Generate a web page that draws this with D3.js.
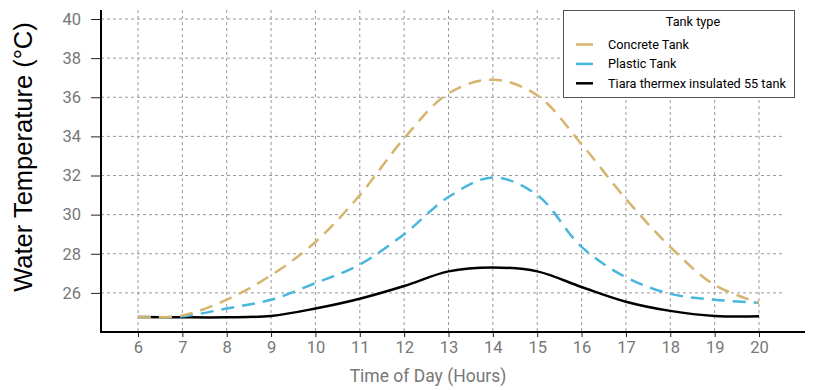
<!DOCTYPE html>
<html>
<head>
<meta charset="utf-8">
<script src="https://cdn.jsdelivr.net/npm/d3@7"></script>
<style>
  body { margin: 0; background: #fff; }
  text { font-family: Roboto, sans-serif; }
</style>
</head>
<body>
<div id="chart"></div>
<script>
// data
hours = [6, 7, 8, 9, 10, 11, 12, 13, 14, 15, 16, 17, 18, 19, 20]
concrete = [24.75, 24.85, 25.65, 26.9, 28.6, 31.0, 33.9, 36.2, 36.9, 36.1, 33.6, 30.8, 28.35, 26.4, 25.5]
plastic = [24.75, 24.8, 25.2, 25.65, 26.5, 27.45, 29.0, 30.9, 31.9, 31.0, 28.35, 26.8, 25.95, 25.65, 25.5]
tiara = [24.77, 24.75, 24.75, 24.82, 25.2, 25.7, 26.35, 27.1, 27.3, 27.1, 26.3, 25.55, 25.08, 24.82, 24.8]
yTicks = [26, 28, 30, 32, 34, 36, 38, 40]
seriesNames = ["Concrete Tank", "Plastic Tank", "Tiara thermex insulated 55 tank"]
seriesColors = ["#d6b46e", "#48b6dd", "#000000"]

width = 820
height = 390

x = d3.scaleLinear().domain([6, 20]).range([138, 759])
y = d3.scaleLinear().domain([24, 40]).range([332, 19])

const svg = d3.select("#chart").append("svg")
    .attr("width", width)
    .attr("height", height)

// grid
svg.append("g").selectAll("line")
    .data(hours)
    .join("line")
    .attr("x1", d => x(d)).attr("x2", d => x(d))
    .attr("y1", 10).attr("y2", 332)
    .attr("stroke", "#999").attr("stroke-dasharray", "3,3").attr("stroke-width", 1)

svg.append("g").selectAll("line")
    .data(yTicks)
    .join("line")
    .attr("x1", 101).attr("x2", 783)
    .attr("y1", d => y(d)).attr("y2", d => y(d))
    .attr("stroke", "#999").attr("stroke-dasharray", "3,3").attr("stroke-width", 1)

// y axis
const yAxis = svg.append("g")
    .attr("transform", "translate(101,0)")
    .call(d3.axisLeft(y).tickValues(yTicks).tickSize(10).tickPadding(10))
yAxis.select(".domain").remove()
yAxis.selectAll(".tick line").attr("stroke", "#222")
yAxis.selectAll("text").attr("fill", "#777").style("font-size", "16.5px")

svg.append("line")
    .attr("x1", 101).attr("x2", 101).attr("y1", 10).attr("y2", 333)
    .attr("stroke", "#000").attr("stroke-width", 2)

// x axis
const xAxis = svg.append("g")
    .attr("transform", "translate(0,332)")
    .call(d3.axisBottom(x).tickValues(hours).tickSize(5).tickPadding(4))
xAxis.select(".domain").remove()
xAxis.selectAll(".tick line").attr("stroke", "#222")
xAxis.selectAll("text").attr("fill", "#777").style("font-size", "16.5px")

svg.append("line")
    .attr("x1", 100).attr("x2", 805).attr("y1", 332).attr("y2", 332)
    .attr("stroke", "#000").attr("stroke-width", 2)

// titles
svg.append("text")
    .attr("transform", "translate(32,157) rotate(-90)")
    .attr("text-anchor", "middle")
    .style("font-family", "'Liberation Sans', Arial, sans-serif")
    .style("font-size", "25.5px")
    .attr("fill", "#000")
    .text("Water Temperature (°C)")

svg.append("text")
    .attr("x", 428).attr("y", 382)
    .attr("text-anchor", "middle")
    .style("font-size", "17.5px")
    .attr("fill", "#777")
    .text("Time of Day (Hours)")

// lines
line = function(vals) {
  return d3.line()
    .x((d, i) => x(hours[i]))
    .y(d => y(d))
    .curve(d3.curveCatmullRom)(vals)
}

svg.append("path")
    .attr("d", line(tiara))
    .attr("fill", "none").attr("stroke", seriesColors[2]).attr("stroke-width", 2.5)

svg.append("path")
    .attr("d", line(plastic))
    .attr("fill", "none").attr("stroke", seriesColors[1]).attr("stroke-width", 2.5)
    .attr("stroke-dasharray", "13,8")

svg.append("path")
    .attr("d", line(concrete))
    .attr("fill", "none").attr("stroke", seriesColors[0]).attr("stroke-width", 2.5)
    .attr("stroke-dasharray", "13,8")

// legend
const lg = svg.append("g")
lg.append("rect")
    .attr("x", 563.5).attr("y", 10.5).attr("width", 231).attr("height", 87)
    .attr("fill", "#fff").attr("stroke", "#555").attr("stroke-width", 1)
lg.append("text")
    .attr("x", 693).attr("y", 26)
    .attr("text-anchor", "middle")
    .style("font-size", "12.7px")
    .text("Tank type")
seriesNames.forEach(function(name, i) {
  const yy = 44.5 + i * 19.4
  lg.append("line")
    .attr("x1", 576).attr("x2", 593).attr("y1", yy).attr("y2", yy)
    .attr("stroke", seriesColors[i]).attr("stroke-width", 2.5)
  lg.append("text")
    .attr("x", 608).attr("y", yy + 4.5)
    .style("font-size", "12.7px")
    .text(name)
})
</script>
</body>
</html>
